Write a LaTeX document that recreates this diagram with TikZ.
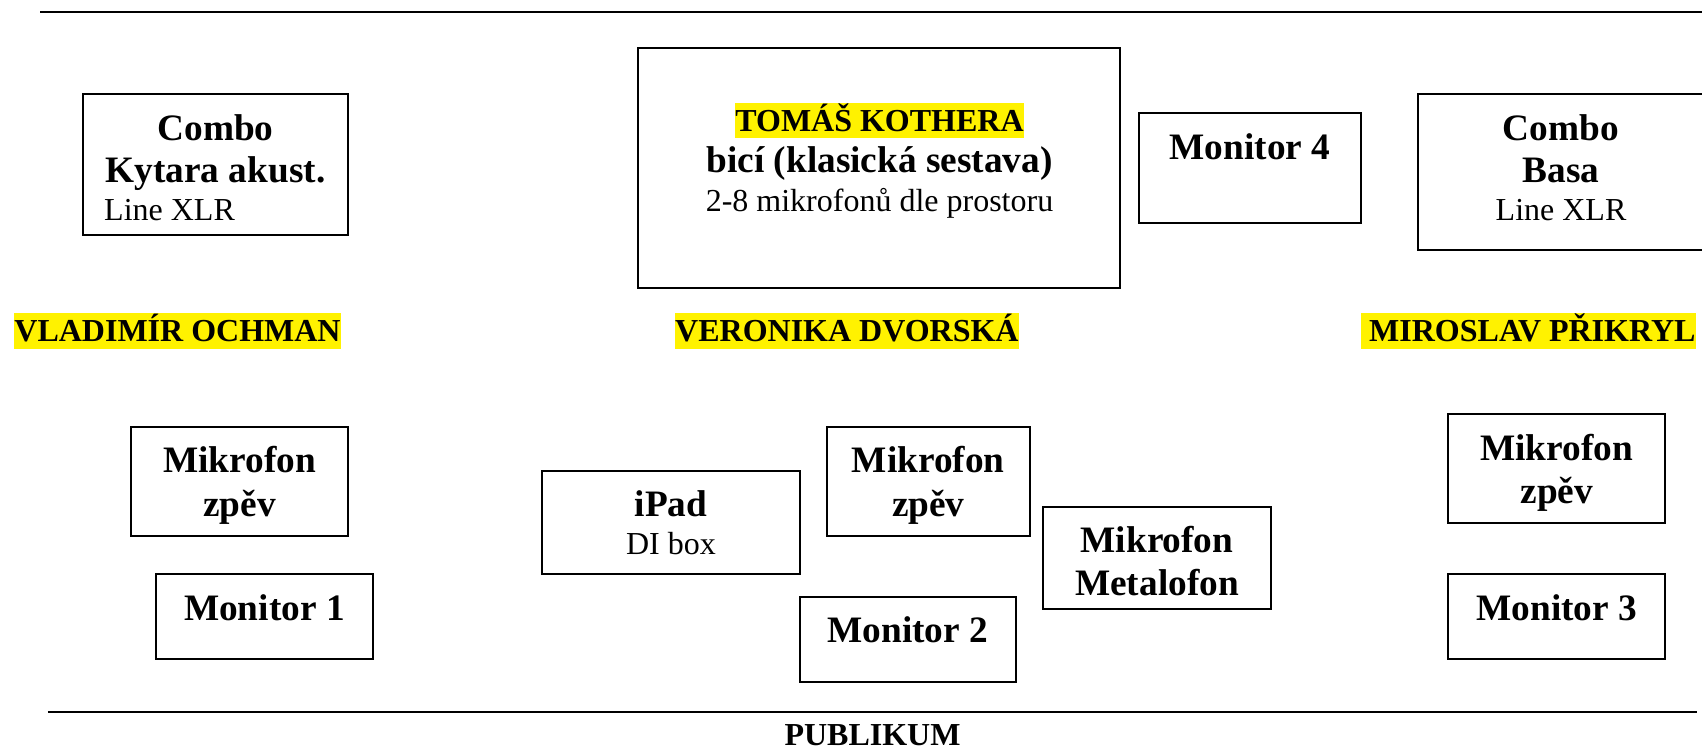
\documentclass[tikz,border=0pt]{standalone}
\usepackage{fontspec}
\setmainfont{Liberation Serif}
\tikzset{
 box/.style={draw, line width=2pt, inner sep=0pt, outer sep=0pt, anchor=north west},
 bigb/.style={font=\fontsize{37.3}{44}\selectfont\bfseries, inner sep=0pt, anchor=base},
 smallr/.style={font=\fontsize{32}{38}\selectfont, inner sep=0pt, anchor=base},
 smallb/.style={font=\fontsize{32}{38}\selectfont\bfseries, inner sep=0pt, anchor=base},
 hl/.style={smallb, fill=yellow, text height=28.5pt, text depth=6.9pt},
 rulerline/.style={line width=2pt},
}
\begin{document}
\begin{tikzpicture}[x=1pt,y=-1pt]
\useasboundingbox (0,0) rectangle (1702,748);
% stage rules
\coordinate (tl) at (40,12);
\coordinate (tr) at (1702,12);
\draw[rulerline] (tl) -- (tr);
\coordinate (bl) at (47.8,712.3);
\coordinate (br) at (1696.7,712.3);
\draw[rulerline] (bl) -- (br);
% boxes
\node[box, minimum width=265pt, minimum height=141pt] (kyt) at (83,94) {};
\node[box, minimum width=482pt, minimum height=240pt] (drum) at (638,48) {};
\node[box, minimum width=221.5pt, minimum height=109.5pt] (mon4) at (1139,113) {};
\node[box, minimum width=287.5pt, minimum height=155.7pt] (basa) at (1417.5,94.3) {};
\node[box, minimum width=217pt, minimum height=108.7pt] (mz1) at (131,427.3) {};
\node[box, minimum width=217.2pt, minimum height=85.3pt] (mon1) at (155.8,574) {};
\node[box, minimum width=257.7pt, minimum height=103.3pt] (ipad) at (542.3,471) {};
\node[box, minimum width=202.6pt, minimum height=108.7pt] (mz2) at (827,427.3) {};
\node[box, minimum width=228.5pt, minimum height=102.3pt] (met) at (1042.9,507) {};
\node[box, minimum width=216.3pt, minimum height=85pt] (mon2) at (799.5,596.7) {};
\node[box, minimum width=216.7pt, minimum height=109.3pt] (mz3) at (1448.3,414) {};
\node[box, minimum width=216.7pt, minimum height=85.3pt] (mon3) at (1448.3,574) {};
% texts
\node[bigb] (kyt1) at (215.5,140) {Combo};
\node[bigb] (kyt2) at (215.5,182.7) {Kytara akust.};
\node[smallr, anchor=base west] (kyt3) at (104,220) {Line XLR};
\node[hl] (drum1) at (879.5,131) {TOMÁŠ KOTHERA};
\node[bigb] (drum2) at (879.5,172.7) {bicí (klasická sestava)};
\node[smallr] (drum3) at (879.5,211.7) {2-8 mikrofonů dle prostoru};
\node[bigb] (mon4t) at (1250,159.3) {Monitor 4};
\node[bigb] (basa1) at (1561,140) {Combo};
\node[bigb] (basa2) at (1561,182.7) {Basa};
\node[smallr] (basa3) at (1561,220) {Line XLR};
\node[hl, anchor=base west] (n1) at (14.2,341.7) {VLADIMÍR OCHMAN};
\node[hl, anchor=base west] (n2) at (675,341.7) {VERONIKA DVORSKÁ};
\node[hl, anchor=base west] (n3) at (1361,341.7) {\hspace*{0.25em}MIROSLAV PŘIKRYL};
\node[bigb] (mz1a) at (239.6,472.7) {Mikrofon};
\node[bigb] (mz1b) at (239.6,516.7) {zpěv};
\node[bigb] (mon1t) at (264.4,620.7) {Monitor 1};
\node[bigb] (ipad1) at (671,516.7) {iPad};
\node[smallr] (ipad2) at (671,554) {DI box};
\node[bigb] (mz2a) at (928.3,472.7) {Mikrofon};
\node[bigb] (mz2b) at (928.3,516.7) {zpěv};
\node[bigb] (met1) at (1157,552.3) {Mikrofon};
\node[bigb] (met2) at (1157,595) {Metalofon};
\node[bigb] (mon2t) at (907.7,642.7) {Monitor 2};
\node[bigb] (mz3a) at (1556.7,460) {Mikrofon};
\node[bigb] (mz3b) at (1556.7,503.3) {zpěv};
\node[bigb] (mon3t) at (1556.7,620.7) {Monitor 3};
\node[smallb] (pub) at (872.5,745) {PUBLIKUM};
\end{tikzpicture}
\end{document}
